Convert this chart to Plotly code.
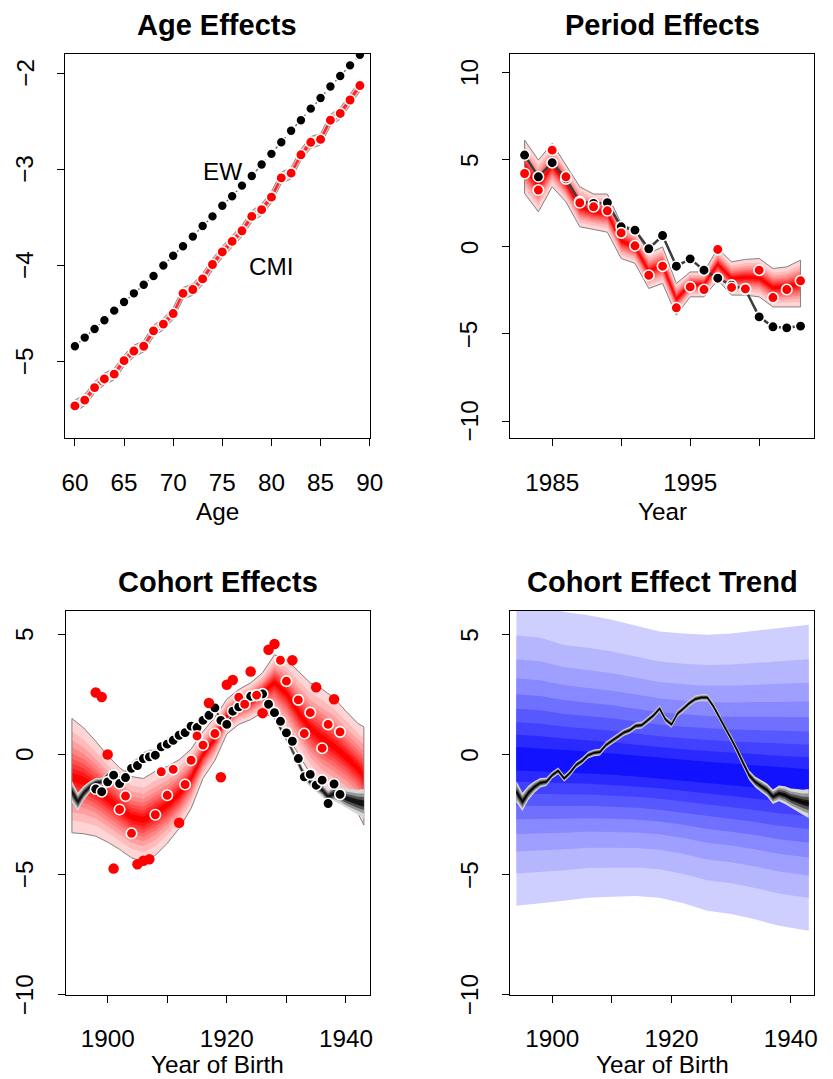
import plotly.graph_objects as go

# ---------------- data ----------------
ages = list(range(60, 90))
ew_age = [-4.84, -4.75, -4.66, -4.57, -4.47, -4.38, -4.29, -4.20, -4.11, -4.00,
          -3.90, -3.80, -3.70, -3.59, -3.49, -3.38, -3.28, -3.17, -3.07, -2.95,
          -2.84, -2.72, -2.60, -2.49, -2.37, -2.26, -2.14, -2.03, -1.92, -1.81]
cmi_age = [-5.46, -5.40, -5.27, -5.18, -5.13, -4.99, -4.89, -4.84, -4.68, -4.61,
           -4.50, -4.29, -4.25, -4.14, -3.99, -3.86, -3.75, -3.64, -3.49, -3.42,
           -3.29, -3.09, -3.04, -2.85, -2.72, -2.69, -2.49, -2.42, -2.28, -2.13]
cmi_age_halfwidth = 0.06

years_p = list(range(1983, 2004))
ew_per = [5.27, 4.02, 4.83, 3.90, 2.60, 2.49, 2.53, 1.15, 0.96, -0.11, 0.65,
          -1.11, -0.69, -1.34, -1.80, -2.20, -2.45, -4.02, -4.59, -4.65, -4.55]
cmi_per = [4.21, 3.26, 5.55, 4.02, 2.53, 2.30, 2.07, 0.80, 0.06, -1.63, -1.11,
           -3.50, -2.30, -2.45, -0.15, -2.33, -2.41, -1.34, -2.91, -2.45, -1.95]
per_hi = [6.13, 4.98, 5.94, 4.69, 3.45, 3.03, 3.03, 1.34, 0.96, -0.38, 0.00,
          -2.10, -1.44, -1.44, -0.09, -0.86, -0.72, -0.67, -1.24, -1.15, -0.76]
per_lo = [3.07, 2.01, 3.45, 2.58, 1.15, 1.00, 0.84, -0.67, -0.95, -2.39, -2.10,
          -3.92, -2.87, -2.87, -1.91, -2.77, -2.77, -2.87, -3.45, -3.45, -3.45]
per_med = [4.60, 3.50, 4.70, 3.64, 2.30, 2.02, 1.94, 0.34, 0.00, -1.39, -1.05,
           -3.01, -2.16, -2.16, -1.00, -1.82, -1.75, -1.77, -2.35, -2.30, -2.10]

coh_years_ew = list(range(1898, 1940))
ew_coh = [-1.44, -1.55, -1.14, -0.86, -1.21, -0.96, -0.58, -0.46, -0.17, -0.10,
          -0.03, 0.32, 0.43, 0.59, 0.80, 0.91, 1.18, 1.12, 1.42, 1.63,
          1.94, 1.42, 1.25, 1.80, 1.98, 2.21, 2.42, 2.46, 2.52, 2.09,
          1.74, 1.38, 0.90, 0.55, -0.17, -0.93, -0.83, -1.28, -1.07, -2.04,
          -1.23, -1.66]

cmi_coh_years_a = [1902, 1903, 1904, 1908, 1909, 1910, 1911, 1913, 1914, 1915, 1916,
                   1918, 1922, 1923, 1925, 1929, 1930, 1932, 1933, 1934, 1936, 1937, 1939]
cmi_coh_a = [-2.29, -1.73, -3.28, -2.51, -0.72, -1.70, -0.62, -1.25, -0.24, 0.77, 0.39,
             0.87, 2.38, 2.09, 2.47, 3.92, 3.05, 2.27, 0.87, 1.74, 0.26, 1.25, 0.94]
cmi_coh_years_b = [1898, 1899, 1900, 1901, 1905, 1906, 1907, 1912, 1917, 1919, 1920,
                   1921, 1924, 1926, 1927, 1928, 1931, 1935, 1938]
cmi_coh_b = [2.58, 2.39, 0.00, -4.75, -4.57, -4.42, -4.36, -2.84, 2.14, -0.95, 2.90,
             3.10, 3.45, 1.72, 4.36, 4.60, 3.92, 2.80, 2.30]

band_years_c = [1894, 1896, 1898, 1900, 1902, 1904, 1906, 1908, 1910, 1912, 1914, 1916,
                1918, 1920, 1922, 1924, 1926, 1928, 1930, 1932, 1934, 1936, 1938, 1940,
                1942, 1943]
coh_hi = [1.50, 1.10, 0.55, -0.05, -0.55, -0.92, -1.00, -0.70, -0.50, -0.22, 0.22, 0.95,
          1.55, 2.30, 2.70, 2.98, 3.40, 4.15, 3.95, 3.45, 2.98, 2.72, 2.35, 1.80,
          1.29, 1.15]
coh_lo = [-3.26, -3.30, -3.40, -3.65, -3.95, -4.30, -4.46, -4.20, -3.70, -3.08, -2.25, -1.00,
          -0.25, 0.85, 1.25, 1.45, 1.75, 1.50, 0.85, 0.05, -0.80, -1.40, -1.70, -2.00,
          -2.45, -2.94]
coh_med = [-0.95, -1.10, -1.42, -1.85, -2.25, -2.61, -2.73, -2.45, -2.10, -1.65, -1.00, 0.00,
           0.65, 1.60, 1.98, 2.20, 2.58, 3.00, 2.55, 1.75, 1.09, 0.66, 0.33, -0.10,
           -0.58, -0.90]

trend_years = list(range(1894, 1944))
trend = [-1.55, -1.97, -1.60, -1.35, -1.18, -1.14, -0.86, -0.68, -1.00, -0.76,
         -0.44, -0.27, -0.03, 0.07, 0.10, 0.39, 0.57, 0.73, 0.91, 1.01,
         1.19, 1.22, 1.42, 1.63, 1.91, 1.45, 1.25, 1.70, 1.91, 2.14,
         2.31, 2.37, 2.37, 2.01, 1.56, 1.08, 0.66, 0.18, -0.37, -0.86,
         -1.14, -1.32, -1.48, -1.76, -1.62, -1.69, -1.83, -1.90, -1.99, -2.04]
trend_spread = [0.45, 0.38, 0.30, 0.24, 0.20, 0.17, 0.14, 0.14, 0.14, 0.14,
                0.14, 0.14, 0.14, 0.14, 0.14, 0.14, 0.14, 0.14, 0.14, 0.14,
                0.14, 0.14, 0.14, 0.14, 0.14, 0.14, 0.14, 0.14, 0.14, 0.14,
                0.14, 0.14, 0.14, 0.14, 0.14, 0.14, 0.15, 0.16, 0.18, 0.20,
                0.22, 0.24, 0.27, 0.30, 0.33, 0.37, 0.41, 0.46, 0.52, 0.60]

fc_years = [1894, 1898, 1902, 1906, 1910, 1914, 1918, 1922, 1926, 1930, 1934, 1938, 1943]
fc_med = [-0.20, -0.25, -0.30, -0.35, -0.42, -0.50, -0.58, -0.66, -0.74, -0.83, -0.92, -1.02, -1.12]
fc_hi = [6.40, 6.30, 5.93, 5.79, 5.61, 5.37, 5.12, 5.03, 4.98, 5.03, 5.14, 5.26, 5.40]
fc_lo = [-6.30, -6.19, -6.09, -5.96, -5.92, -5.89, -5.96, -6.19, -6.50, -6.64, -6.86, -7.13, -7.34]

# tick values / labels
age_ticks = [60, 65, 70, 75, 80, 85, 90]
age_yticks = [-5, -4, -3, -2]
per_xticks = [1985, 1990, 1995, 2000]
per_xlabels = ["1985", "", "1995", ""]
per_yticks = [-10, -5, 0, 5, 10]
coh_xticks = [1900, 1910, 1920, 1930, 1940]
coh_xlabels = ["1900", "", "1920", "", "1940"]
coh_yticks = [-10, -5, 0, 5]

# ---------------- style ----------------
W, H = 833, 1079
FONT = "Liberation Sans, Arial, Helvetica, sans-serif"
FS = 24.3
FS_TITLE = 29
FAN_FRACS = [1.0, 0.78, 0.63, 0.51, 0.41, 0.319, 0.234, 0.154, 0.077]


def ramp(c0, c1, n):
    out = []
    for i in range(n):
        t = i / (n - 1)
        out.append("rgb(%d,%d,%d)" % tuple(round(a + (b - a) * t) for a, b in zip(c0, c1)))
    return out


RED_FAN = ramp((255, 212, 212), (255, 0, 0), len(FAN_FRACS))
BLUE_FAN = ramp((206, 206, 255), (18, 18, 255), len(FAN_FRACS))
GRAY_FRACS = [1.0, 0.7, 0.45, 0.22]
GRAY_FAN = ["rgb(215,215,215)", "rgb(150,150,150)", "rgb(80,80,80)", "rgb(20,20,20)"]

fig = go.Figure()


def add_fan(xa, ya, x, med, lo, hi, fracs, colors, outline=None):
    x = list(x)
    for f, c in zip(fracs, colors):
        up = [m + f * (h - m) for m, h in zip(med, hi)]
        dn = [m - f * (m - l) for m, l in zip(med, lo)]
        fig.add_trace(go.Scatter(x=x + x[::-1], y=up + dn[::-1], mode="lines",
                                 fill="toself", fillcolor=c, line=dict(width=0),
                                 xaxis=xa, yaxis=ya, hoverinfo="skip"))
    if outline:
        fig.add_trace(go.Scatter(x=x + x[::-1] + [x[0]], y=list(hi) + list(lo)[::-1] + [hi[0]],
                                 mode="lines", line=dict(color=outline, width=1),
                                 xaxis=xa, yaxis=ya, hoverinfo="skip"))


def add_pts(xa, ya, x, y, color, outline=True, size=10.5):
    fig.add_trace(go.Scatter(x=x, y=y, mode="markers",
                             marker=dict(color=color, size=size,
                                         line=dict(color="white", width=1.6 if outline else 0)),
                             xaxis=xa, yaxis=ya, hoverinfo="skip"))


# Panel 1: Age effects
lo1 = [v - cmi_age_halfwidth for v in cmi_age]
hi1 = [v + cmi_age_halfwidth for v in cmi_age]
add_fan("x", "y", ages, cmi_age, lo1, hi1, [1.0, 0.5], ["rgb(255,190,190)", "rgb(255,40,40)"],
        outline="rgb(140,140,140)")
fig.add_trace(go.Scatter(x=ages, y=ew_age, mode="lines",
                         line=dict(color="rgb(110,110,110)", width=1.5, dash="dot"),
                         xaxis="x", yaxis="y", hoverinfo="skip"))
add_pts("x", "y", ages, ew_age, "black", size=10)
add_pts("x", "y", ages, cmi_age, "red", size=10.5)

# Panel 2: Period effects
add_fan("x2", "y2", years_p, per_med, per_lo, per_hi, FAN_FRACS, RED_FAN, outline="rgb(130,130,130)")
fig.add_trace(go.Scatter(x=years_p, y=ew_per, mode="lines",
                         line=dict(color="rgb(60,60,60)", width=2.5),
                         xaxis="x2", yaxis="y2", hoverinfo="skip"))
add_pts("x2", "y2", years_p, ew_per, "black")
add_pts("x2", "y2", years_p, cmi_per, "red")

# Panel 3: Cohort effects
add_fan("x3", "y3", band_years_c, coh_med, coh_lo, coh_hi, FAN_FRACS, RED_FAN, outline="rgb(130,130,130)")
tr_lo = [t - s for t, s in zip(trend, trend_spread)]
tr_hi = [t + s for t, s in zip(trend, trend_spread)]
add_fan("x3", "y3", trend_years, trend, tr_lo, tr_hi, GRAY_FRACS, GRAY_FAN)
add_pts("x3", "y3", coh_years_ew, ew_coh, "black")
add_pts("x3", "y3", cmi_coh_years_b, cmi_coh_b, "red", outline=False, size=10.5)
add_pts("x3", "y3", cmi_coh_years_a, cmi_coh_a, "red")

# Panel 4: Cohort effect trend
add_fan("x4", "y4", fc_years, fc_med, fc_lo, fc_hi, FAN_FRACS, BLUE_FAN)
add_fan("x4", "y4", trend_years, trend, tr_lo, tr_hi, GRAY_FRACS, GRAY_FAN)
fig.add_trace(go.Scatter(x=trend_years, y=trend, mode="lines",
                         line=dict(color="black", width=1.2),
                         xaxis="x4", yaxis="y4", hoverinfo="skip"))

# ---------------- layout ----------------
def dom_x(a, b):
    return [a / W, b / W]


def dom_y(top, bottom):
    return [1 - bottom / H, 1 - top / H]


common = dict(showline=True, linecolor="black", linewidth=1.3, mirror=True,
              ticks="outside", ticklen=7, tickwidth=1.3, tickcolor="black",
              showgrid=False, zeroline=False,
              tickfont=dict(family=FONT, size=FS, color="black"))
xcommon = dict(common, ticklabelstandoff=15)
ycommon = dict(common, showticklabels=False)

layout = dict(
    width=W, height=H, margin=dict(l=0, r=0, t=0, b=0),
    paper_bgcolor="white", plot_bgcolor="white", showlegend=False,
    font=dict(family=FONT, color="black"),
    xaxis=dict(xcommon, domain=dom_x(63.3, 374), range=[59.0, 90.01], anchor="y",
               tickvals=age_ticks),
    yaxis=dict(ycommon, domain=dom_y(54, 438.3), range=[-5.797, -1.802], anchor="x",
               tickvals=age_yticks),
    xaxis2=dict(xcommon, domain=dom_x(517.3, 826.7), range=[1981.97, 2003.96], anchor="y2",
                tickvals=per_xticks, ticktext=per_xlabels),
    yaxis2=dict(ycommon, domain=dom_y(54, 438.3), range=[-10.99, 11.07], anchor="x2",
                tickvals=per_yticks),
    xaxis3=dict(xcommon, domain=dom_x(64, 374), range=[1892.97, 1944.0], anchor="y3",
                tickvals=coh_xticks, ticktext=coh_xlabels),
    yaxis3=dict(ycommon, domain=dom_y(611, 995), range=[-10.01, 5.97], anchor="x3",
                tickvals=coh_yticks),
    xaxis4=dict(xcommon, domain=dom_x(517.3, 826.7), range=[1892.98, 1943.85], anchor="y4",
                tickvals=coh_xticks, ticktext=coh_xlabels),
    yaxis4=dict(ycommon, domain=dom_y(611, 995), range=[-10.01, 5.97], anchor="x4",
                tickvals=coh_yticks),
)
fig.update_layout(**layout)

ann = []


def text_px(txt, x, y, size=FS, bold=False):
    ann.append(dict(text=("<b>%s</b>" % txt) if bold else txt, x=x / W, y=1 - y / H,
                    xref="paper", yref="paper", showarrow=False, xanchor="center",
                    yanchor="middle", font=dict(family=FONT, size=size, color="black")))


def ylabels(yref, ticks, xpx):
    for v in ticks:
        lab = ("\u2212%d" % abs(v)) if v < 0 else "%d" % v
        ann.append(dict(text=lab, x=xpx / W, y=v, xref="paper", yref=yref, showarrow=False,
                        xanchor="center", yanchor="middle", textangle=-90,
                        font=dict(family=FONT, size=FS, color="black")))


ylabels("y", age_yticks, 22)
ylabels("y2", per_yticks, 475.5)
ylabels("y3", coh_yticks, 22)
ylabels("y4", coh_yticks, 475.5)

text_px("Age Effects", 218.5, 25, size=FS_TITLE, bold=True)
text_px("Period Effects", 672, 25, size=FS_TITLE, bold=True)
text_px("Cohort Effects", 219, 582, size=FS_TITLE, bold=True)
text_px("Cohort Effect Trend", 672, 582, size=FS_TITLE, bold=True)
text_px("Age", 218.5, 511)
text_px("Year", 672, 511)
text_px("Year of Birth", 219, 1064)
text_px("Year of Birth", 672, 1064)

ann.append(dict(text="EW", x=75, y=-3.02, xref="x", yref="y", showarrow=False,
                font=dict(family=FONT, size=FS, color="black")))
ann.append(dict(text="CMI", x=80, y=-4.01, xref="x", yref="y", showarrow=False,
                font=dict(family=FONT, size=FS, color="black")))
fig.update_layout(annotations=ann)

fig.write_html("out.html")
